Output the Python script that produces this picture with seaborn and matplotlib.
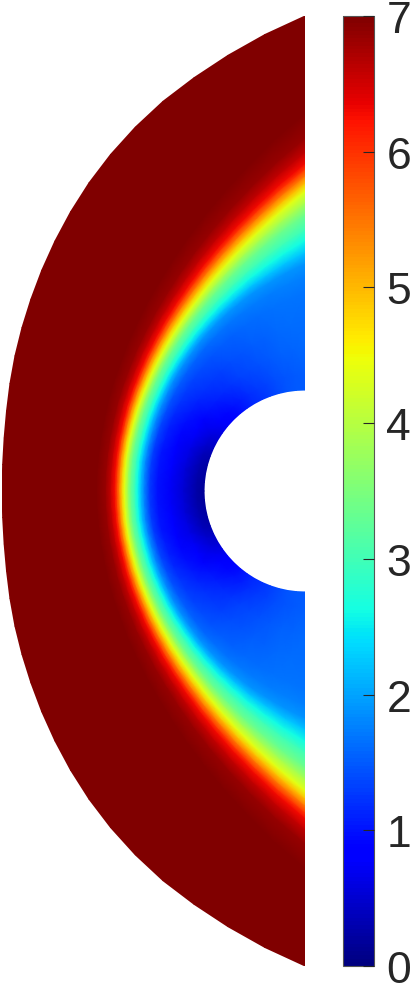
from matplotlib import pyplot as plt
import numpy as np
import seaborn as sns

# angle away from the symmetry axis, one value per ray (degrees)
ray_angle = [0, 5, 10, 15, 20, 25, 30, 35, 40, 45, 50, 55, 60, 65, 70, 75, 80, 85, 90]
# radius of the yellow front on each ray
front_radius = [1.81, 1.812, 1.82, 1.829, 1.842, 1.862, 1.886, 1.916, 1.954, 1.999,
                2.053, 2.116, 2.19, 2.28, 2.383, 2.505, 2.645, 2.81, 3.00]
# outer edge of the domain on each ray
edge_radius = [3.03, 3.035, 3.055, 3.09, 3.14, 3.20, 3.268, 3.346, 3.436, 3.536,
               3.646, 3.764, 3.887, 4.015, 4.148, 4.28, 4.425, 4.583, 4.75]
# how much the front widens along the ray, outer and inner side
outer_width = [1.0, 1.0, 1.0, 1.02, 1.05, 1.1, 1.15, 1.2, 1.28, 1.35,
               1.45, 1.55, 1.68, 1.82, 1.98, 2.15, 2.35, 2.58, 2.8]
inner_width = [1.0, 1.0, 1.0, 1.02, 1.05, 1.08, 1.12, 1.17, 1.22, 1.3,
               1.4, 1.5, 1.65, 1.85, 2.1, 2.4, 2.8, 3.25, 3.8]
# field value on the body surface for each ray
body_value = [0.16, 0.17, 0.2, 0.24, 0.3, 0.4, 0.5, 0.62, 0.75, 0.85,
              0.95, 1.05, 1.15, 1.23, 1.3, 1.38, 1.45, 1.48, 1.5]
body_radius = 1.01

# between body and front foot
layer_position = [0, 0.13, 0.35, 0.56, 0.77, 0.9]
layer_share = [0, 0.05, 0.22, 0.34, 0.48, 0.66]
# across the front: distance from the yellow line and value there
front_offset = [-0.19, -0.16, -0.13, -0.10, -0.06, -0.03, 0, 0.03, 0.055, 0.08, 0.10, 0.14, 0.19, 0.28]
front_value = [1.9, 2.25, 2.6, 3.0, 3.4, 3.9, 4.4, 5.0, 5.5, 6.0, 6.3, 6.6, 6.85, 7.0]

cbar_ticks = [0, 1, 2, 3, 4, 5, 6, 7]

sns.set_theme(style="white")
plt.rcParams['font.family'] = ['Liberation Sans', 'DejaVu Sans']

# mirror the rays so the table covers the lower half too
phi = np.radians(np.r_[-np.array(ray_angle[:0:-1]), ray_angle])
mirror = lambda a: np.r_[np.array(a)[:0:-1], a]
r_front = mirror(front_radius)
r_edge = mirror(edge_radius)
w_out = mirror(outer_width)
w_in = mirror(inner_width)
v_body = mirror(body_value)
offsets = np.array(front_offset)

r_rows = []
v_rows = []
r_foot = r_front + offsets[0] * w_in
for pos, share in zip(layer_position, layer_share):
    r_rows.append(body_radius + pos * (r_foot - body_radius))
    v_rows.append(v_body + share * (front_value[0] - v_body))
for off, val in zip(offsets, front_value):
    w = w_in if off < 0 else w_out
    r_rows.append(r_front + off * w)
    v_rows.append(np.full_like(phi, val))
r_rows.append(r_edge)
v_rows.append(np.full_like(phi, front_value[-1]))

r_grid = np.array(r_rows)
v_grid = np.array(v_rows)
x_grid = -r_grid * np.cos(phi)
y_grid = r_grid * np.sin(phi)

W, H = 414, 987
fig = plt.figure(figsize=(W / 100, H / 100), dpi=100)
ax = fig.add_axes([2 / W, (H - 967) / H, 303 / W, 950 / H])
cax = fig.add_axes([343 / W, (H - 967) / H, 31 / W, 950 / H])

# seaborn's color_palette refuses jet, so name it directly
mesh = ax.pcolormesh(x_grid, y_grid, v_grid, shading='gouraud', cmap='jet', vmin=0, vmax=7)
ax.set_xlim(-edge_radius[0], 0)
ax.set_ylim(-edge_radius[-1], edge_radius[-1])
ax.axis('off')

cbar = fig.colorbar(mesh, cax=cax, ticks=cbar_ticks)
cbar.outline.set_edgecolor('#555555')
cbar.outline.set_linewidth(0.8)
cax.set_axisbelow(False)
cbar.ax.tick_params(direction='in', length=8, width=0.8, color='#262626', pad=9, labelsize=32, right=True)

fig.savefig('out.png', dpi=100)
